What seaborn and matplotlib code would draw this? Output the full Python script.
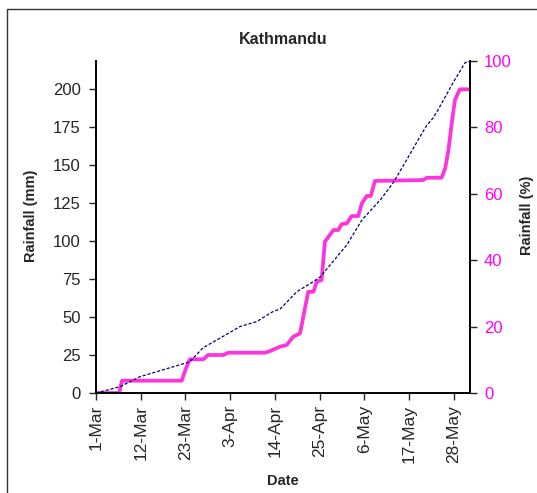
import matplotlib
matplotlib.use("Agg")
import matplotlib.pyplot as plt
import pandas as pd
import numpy as np
import seaborn as sns
from matplotlib.patches import Rectangle

# days after 1-Mar, cumulative rainfall (mm) - magenta, left axis
rain_days = [0, 5.7, 6.4, 21.1, 22.1, 23.1, 26.4, 27.6, 31.3, 32.5, 41.6, 42.8, 45.3, 46.9,
             48.5, 50.2, 52.2, 53.5, 54.3, 55.5, 56.3, 58.4, 59.6, 60.4, 61.7, 62.9, 64.5,
             65.4, 66.6, 67.6, 68.6, 80.5, 81.4, 85.0, 85.9, 86.7, 87.5, 88.3, 89.5, 91.6]
rain_mm = [0, 0, 8.1, 8.1, 16, 22.2, 22.2, 25, 25, 26.5, 26.5, 27.6, 30.5, 31.6,
           37, 39.3, 66.6, 66.6, 73.2, 74.3, 99.5, 107.2, 107.2, 111, 111.6, 116.4, 116.4,
           124.8, 129.6, 129.6, 139.5, 140.1, 141.6, 141.6, 147.8, 159.9, 177.4, 192.8, 199.8, 199.8]

# days after 1-Mar, cumulative rainfall (%) - dashed blue, right axis
pct_days = [0, 5.9, 10.8, 23.1, 26.3, 31.2, 35.4, 39.5, 43.5, 45.3, 49.4, 53.4, 55.1, 61.7,
            65.4, 69.9, 73.1, 76.4, 79.7, 81.4, 82.9, 84.1, 87.8, 90.8, 92]
pct_vals = [0, 1.9, 4.9, 9.4, 13.6, 17.0, 20.0, 21.5, 24.5, 25.3, 30.5, 33.5, 34.9, 44.6,
            52.1, 58.1, 63.3, 70.2, 77.2, 80.7, 82.8, 85.2, 93.4, 99.5, 100]

tick_days = [0, 11, 22, 33, 44, 55, 66, 77, 88]
tick_labels = ['1-Mar', '12-Mar', '23-Mar', '3-Apr', '14-Apr', '25-Apr', '6-May', '17-May', '28-May']

sns.set_style("ticks")
plt.rcParams['font.family'] = ['Liberation Sans', 'DejaVu Sans']

df_mm = pd.DataFrame({'day': rain_days, 'mm': rain_mm})
df_pct = pd.DataFrame({'day': pct_days, 'pct': pct_vals})

fig = plt.figure(figsize=(5.37, 4.93), dpi=100)
ax = fig.add_axes([96/537, 1-393/493, (470-96)/537, (393-61)/493])
ax2 = ax.twinx()

sns.lineplot(data=df_mm, x='day', y='mm', ax=ax, color='#ff33dd', linewidth=2.7)
sns.lineplot(data=df_pct, x='day', y='pct', ax=ax2, color='#000080', linewidth=0.9,
             linestyle=(0, (2.5, 1.5)))

ax.set_xlim(0, 92)
ax.set_ylim(0, 218.4)
ax2.set_ylim(0, 100)
ax.set_yticks([0, 25, 50, 75, 100, 125, 150, 175, 200])
ax2.set_yticks([0, 20, 40, 60, 80, 100])
ax.set_xticks(tick_days)
ax.set_xticklabels(tick_labels, rotation=90)

ax.tick_params(axis='y', labelsize=12, length=5, width=1, direction='out', pad=6)
ax.tick_params(axis='x', labelsize=12.5, length=5, width=1, direction='out')
ax2.tick_params(axis='y', labelsize=12, length=5, width=1, direction='out', pad=5,
                labelcolor='#ff00ff')

for a in (ax, ax2):
    a.spines['top'].set_visible(False)
    for s in ('left', 'right', 'bottom'):
        a.spines[s].set_linewidth(1.2)
        a.spines[s].set_color('black')

ax.set_xlabel('Date', fontsize=10.5, fontweight='bold', labelpad=8)
ax.set_ylabel('Rainfall (mm)', fontsize=10.5, fontweight='bold')
ax2.set_ylabel('Rainfall (%)', fontsize=10.5, fontweight='bold')
ax.yaxis.set_label_coords(-58/374, 0.535)
ax2.yaxis.set_label_coords(1 + 50/374, 0.535)
ax.set_title('Kathmandu', fontsize=11.5, fontweight='bold', pad=12)

# chart area border
fig.patches.append(Rectangle((7/537, -0.05), 1.0, 1 - 9/493 + 0.05, transform=fig.transFigure,
                             fill=False, edgecolor='#333333', linewidth=1.0))

fig.savefig('out.png', dpi=100)
